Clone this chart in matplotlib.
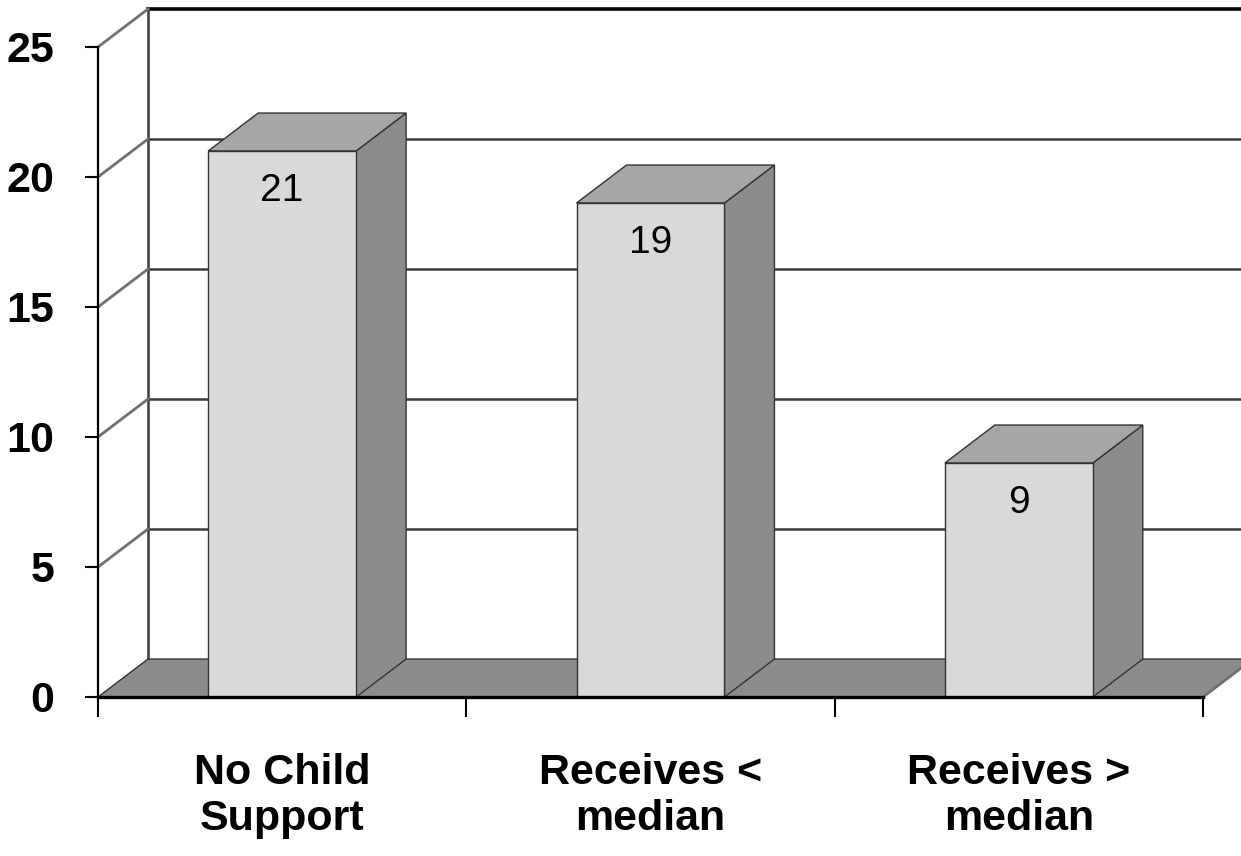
import matplotlib
matplotlib.use("Agg")
import matplotlib.pyplot as plt
from matplotlib.patches import Polygon

categories = ["No Child\nSupport", "Receives <\nmedian", "Receives >\nmedian"]
values = [21, 19, 9]
y_ticks = [0, 5, 10, 15, 20, 25]

FRONT = "#d9d9d9"
SIDE = "#8c8c8c"
TOP = "#a6a6a6"
FLOOR = "#8c8c8c"
EDGE = "#333333"
FONT = ["Liberation Sans", "DejaVu Sans"]

# depth offset of the 3-D look, in data units
dx, dy = 0.1357, 1.46
half_w = 0.2008

fig = plt.figure(figsize=(12.41, 8.56), dpi=100)
ax = fig.add_axes([98 / 1241, 159 / 856, 1105 / 1241, 650 / 856])
ax.set_xlim(-0.5, 2.5)
ax.set_ylim(0, 25)

# back wall: gridlines, top edge, left edge
x_back0 = -0.5 + dx
for v in y_ticks[1:-1]:
    ax.plot([x_back0, 3.0], [v + dy, v + dy], color="#3a3a3a", lw=1.8,
            clip_on=False, zorder=1)
ax.plot([x_back0, 3.0], [25 + dy, 25 + dy], color="black", lw=2.6,
        clip_on=False, zorder=1)
ax.plot([x_back0, x_back0], [dy, 25 + dy], color="#3a3a3a", lw=1.8,
        clip_on=False, zorder=1)

# connectors from front axis to back wall
for v in y_ticks[1:]:
    ax.plot([-0.5, x_back0], [v, v + dy], color="#707070", lw=2,
            clip_on=False, zorder=1)

# floor
floor = Polygon([(-0.5, 0), (x_back0, dy), (2.5 + dx, dy), (2.5, 0)],
                closed=True, facecolor=FLOOR, edgecolor=EDGE, lw=1,
                clip_on=False, zorder=2)
ax.add_patch(floor)
ax.plot([2.5, 2.5 + dx], [0, dy], color="#707070", lw=2, clip_on=False, zorder=2)

# bars
for i, v in enumerate(values):
    l, r = i - half_w, i + half_w
    side = Polygon([(r, 0), (r + dx, dy), (r + dx, v + dy), (r, v)],
                   facecolor=SIDE, edgecolor=EDGE, lw=1, clip_on=False, zorder=3)
    top = Polygon([(l, v), (r, v), (r + dx, v + dy), (l + dx, v + dy)],
                  facecolor=TOP, edgecolor=EDGE, lw=1, clip_on=False, zorder=3)
    ax.add_patch(side)
    ax.add_patch(top)
    ax.bar(i, v, width=2 * half_w, color=FRONT, edgecolor=EDGE, lw=1, zorder=4)
    ax.annotate(str(v), (i, v), xytext=(0, -29), textcoords="offset points",
                ha="center", va="center", fontsize=28, family=FONT, zorder=5)

# axes and ticks
for s in ("top", "right"):
    ax.spines[s].set_visible(False)
ax.spines["left"].set_linewidth(1.6)
ax.spines["bottom"].set_linewidth(2.4)
ax.spines["left"].set_zorder(6)
ax.spines["bottom"].set_zorder(6)

ax.set_yticks(y_ticks)
ax.set_yticklabels([str(t) for t in y_ticks], fontsize=31, fontweight="bold",
                   family=FONT)
ax.tick_params(axis="y", length=9.5, width=1.5, pad=22)

ax.set_xticks(range(len(categories)))
ax.set_xticklabels(categories, fontsize=31, fontweight="bold", family=FONT,
                   linespacing=1.2)
ax.set_xticks([-0.5, 0.5, 1.5, 2.5], minor=True)
ax.tick_params(axis="x", which="major", length=0, pad=40)
ax.tick_params(axis="x", which="minor", length=14.5, width=1.5)
ax.set_facecolor("none")

fig.savefig("out.png", dpi=100)
